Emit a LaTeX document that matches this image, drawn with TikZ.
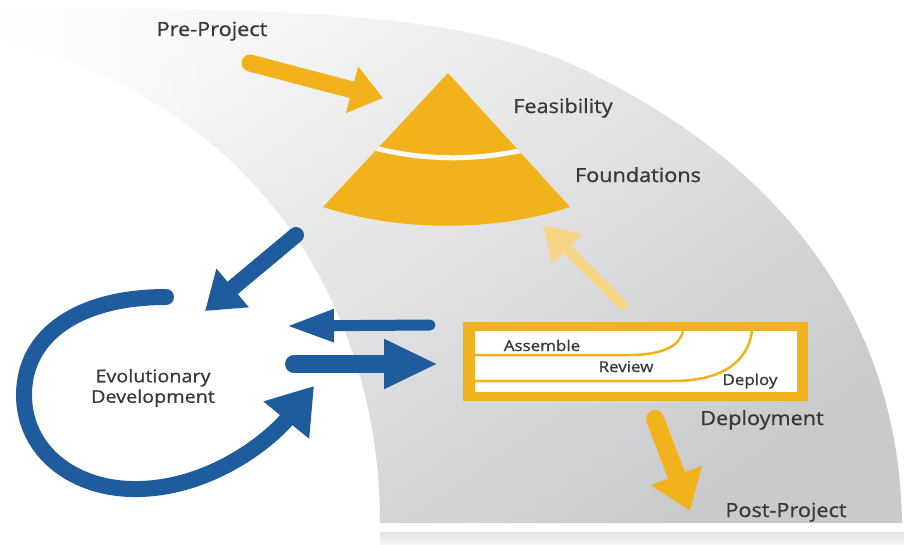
\documentclass[tikz,border=0pt]{standalone}
\usepackage{fontspec}
\setmainfont{Open Sans}[FakeBold=0.8]
\usetikzlibrary{arrows.meta,fadings}
\definecolor{ygold}{HTML}{F2B21B}
\definecolor{ypale}{HTML}{F8D584}
\definecolor{bblue}{HTML}{1F5C9E}
\definecolor{bandgray}{HTML}{C9CACC}
\definecolor{bandmid}{HTML}{DDDEDF}
\definecolor{bandtop}{HTML}{F8F8F8}
\definecolor{txt}{HTML}{383838}
\begin{document}
\begin{tikzpicture}[x=1pt,y=-1pt,
  lbl/.style={font=\fontsize{19.5}{22}\selectfont, text=txt, xscale=1.11, inner sep=0pt, anchor=base},
  evo/.style={font=\fontsize{17.5}{20.5}\selectfont, text=txt, xscale=1.13, inner sep=0pt, align=center},
  small/.style={font=\fontsize{15}{17}\selectfont, text=txt, xscale=1.13, inner sep=0pt, anchor=base},
  yarrow/.style={draw=ygold, line cap=round},
  parrow/.style={draw=ypale, line cap=round},
  barrow/.style={draw=bblue, line cap=round},
]
\useasboundingbox (0,0) rectangle (904,544);
\fill[white] (0,0) rectangle (904,544);
% background band
\shade[top color=bandtop, middle color=bandmid, bottom color=bandgray, shading angle=35]
  (0,40) .. controls (250,100) and (380,300) .. (380,523)
  -- (902,523) .. controls (900,380) and (840,200) .. (600,78)
  .. controls (480,12) and (300,8) .. (0,8) -- cycle;
\fill[white, path fading=east] (0,0) rectangle (220,170);
\shade[top color=gray!22, bottom color=gray!8] (380,532) rectangle (904,544);

% pyramid
\path[fill=ygold] (448,73) -- (323,207) .. controls (400,232) and (495,232) .. (570,207) -- cycle;
\begin{scope}
  \clip (448,73) -- (323,207) .. controls (400,232) and (495,232) .. (570,207) -- cycle;
  \draw[white!95!gray, line width=5pt] (360,144) .. controls (420,162) and (480,162) .. (540,146);
\end{scope}

% deployment box
\fill[ygold] (463,322) rectangle (808,401);
\fill[white] (475,331) rectangle (797,392);
\draw[ygold, line width=2.5pt] (475,355) -- (628,355) .. controls (665,355) and (680,345) .. (683,331);
\draw[ygold, line width=2.5pt] (475,381) -- (672,381) .. controls (725,381) and (748,360) .. (752,331);

% labels
\node[lbl] (pre) at (212,36) {Pre-Project};
\node[lbl] (feas) at (563,113) {Feasibility};
\node[lbl] (found) at (638,182) {Foundations};
\node[lbl] (dep) at (762,425) {Deployment};
\node[lbl] (post) at (786,517) {Post-Project};
\node[evo] (evo) at (153,388) {Evolutionary\\Development};
\node[small] (asm) at (542,351) {Assemble};
\node[small] (rev) at (626,372) {Review};
\node[small] (dpl) at (750,385) {Deploy};

% arrow end points
\coordinate (ppA) at (250,63);
\coordinate (ppB) at (383,98);
\coordinate (pyA) at (623,305);
\coordinate (pyB) at (543,225);
\coordinate (dnA) at (655,419);
\coordinate (dnB) at (690,511);
\coordinate (b1A) at (296,235);
\coordinate (b1B) at (205,311);
\coordinate (b2A) at (430,325);
\coordinate (b2B) at (286,326);
\coordinate (b3A) at (294,364);
\coordinate (b3B) at (438,364);
\coordinate (cA) at (166,297);
\coordinate (cL) at (24,395);
\coordinate (cD) at (140,489);
\coordinate (cB) at (314,386);

% yellow arrows
\draw[yarrow, line width=17pt, -{Triangle[width=46pt,length=32pt]}] (ppA) -- (ppB);
\draw[parrow, line width=10pt, -{Triangle[width=40pt,length=34pt]}] (pyA) -- (pyB);
\draw[yarrow, line width=18pt, -{Triangle[width=52pt,length=38pt]}] (dnA) -- (dnB);

% blue arrows
\draw[barrow, line width=16pt, -{Triangle[width=48pt,length=36pt]}] (b1A) -- (b1B);
\draw[barrow, line width=11pt, -{Triangle[width=30pt,length=48pt]}] (b2A) -- (b2B);
\draw[barrow, line width=18pt, -{Triangle[width=46pt,length=54pt]}] (b3A) -- (b3B);
\draw[barrow, line width=16pt, -{Triangle[width=56pt,length=44pt]}]
  (cA) .. controls (80,297) and (24,334) .. (cL)
  .. controls (24,452) and (75,491) .. (cD)
  .. controls (212,487) and (270,440) .. (cB);
\end{tikzpicture}
\end{document}
